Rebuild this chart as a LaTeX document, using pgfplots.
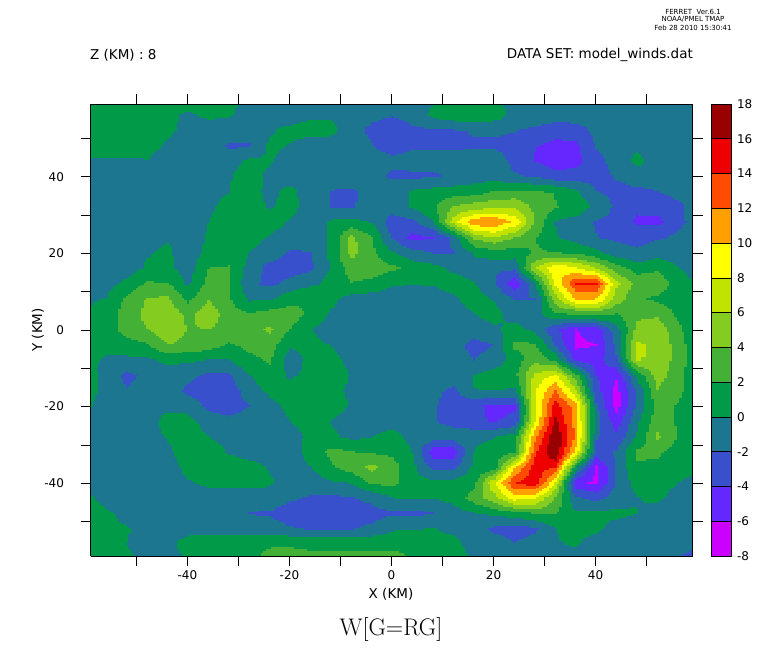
\documentclass[border=0pt]{standalone}
\usepackage{pgfplots}
\pgfplotsset{compat=1.18}
\usepgfplotslibrary{patchplots}
\usepackage{fontspec}
\newfontfamily\dv{DejaVu Sans}
\definecolor{c01}{HTML}{CC00FF}
\definecolor{c02}{HTML}{6428FF}
\definecolor{c03}{HTML}{3850CC}
\definecolor{c04}{HTML}{1C7690}
\definecolor{c05}{HTML}{009A48}
\definecolor{c06}{HTML}{44B035}
\definecolor{c07}{HTML}{85CC20}
\definecolor{c08}{HTML}{C0E400}
\definecolor{c09}{HTML}{FFFF00}
\definecolor{c10}{HTML}{FFA000}
\definecolor{c11}{HTML}{FF4C00}
\definecolor{c12}{HTML}{EE0000}
\definecolor{c13}{HTML}{990000}
\pgfplotsset{
  colormap={ferret}{color=(c01) color=(c02) color=(c03) color=(c04) color=(c05) color=(c06) color=(c07) color=(c08) color=(c09) color=(c10) color=(c11) color=(c12) color=(c13)},
}
\begin{document}
\begin{tikzpicture}[x=1pt,y=1pt]
\path[use as bounding box] (0,0) rectangle (768,662);
\begin{axis}[
  at={(90.5pt,106pt)}, anchor=south west,
  scale only axis, width=602pt, height=452pt,
  xmin=-59, xmax=59, ymin=-59, ymax=59,
  view={0}{90},
  xtick={-40,-20,...,40}, ytick={-40,-20,...,40},
  minor xtick={-50,-30,...,50}, minor ytick={-50,-30,...,50},
  tick align=outside, major tick length=10pt, minor tick length=10pt,
  tick style={black,line width=0.8pt},
  axis line style={line width=0.8pt},
  xtick pos=both, ytick pos=both,
  xticklabel pos=bottom, yticklabel pos=left,
  tick label style={font=\dv\fontsize{12}{14}\selectfont},
  xticklabel style={yshift=-1pt},
  yticklabel style={xshift=-13pt},
  /pgf/number format/assume math mode=true,
  axis on top,
  colormap name=ferret,
  colormap access=piecewise constant,
  point meta min=-8, point meta max=18,
]
\addplot3[surf, shader=interp, patch type=bilinear, mesh/cols=31, mesh/ordering=x varies, point meta=z]
table[row sep=\\, header=false, x expr={-60+4*mod(\coordindex,31)}, y expr={60-4*floor(\coordindex/31)}, z expr=\thisrowno{0}]{
1\\1\\1\\1\\1\\1\\1\\.6\\-.4\\-1\\-1\\-1\\-1\\-1\\-1\\-1.2\\-1\\-.3\\.3\\.5\\.4\\-1\\-1\\-1\\-1\\-1\\-1\\-1\\-1\\-1\\-1\\
1\\1\\1\\1\\.5\\-.3\\.4\\.2\\-.7\\-1\\-1\\-.3\\-.3\\-1\\-1.5\\-1.9\\-1.3\\.5\\1.2\\1.3\\1\\-.6\\-1\\-1\\-1\\-1\\-1\\-1\\-1\\-1\\-1\\
1\\1\\1\\1\\.4\\-.6\\-1\\-1\\-1\\-.3\\.6\\.8\\.6\\-1\\-2.5\\-3\\-2.4\\-2.1\\-2\\-1.8\\-1.7\\-1.9\\-2.3\\-3.2\\-2.9\\-1.4\\-1\\-1\\-1\\-1\\-1\\
1\\1\\1\\.8\\-.3\\-1\\-1\\-2.3\\-2.2\\.4\\-.1\\-1\\-1\\-1\\-1.9\\-2.8\\-2.3\\-2.3\\-2.3\\-2.3\\-2.3\\-2.6\\-3.9\\-4.6\\-4.4\\-1.8\\-1\\-.5\\-.9\\-1\\-1\\
-.2\\-.2\\-.2\\-.1\\-1\\-1\\-1\\-.8\\.4\\.2\\-.8\\-1\\-1\\-1\\-1.4\\-1.6\\-1.3\\-1.2\\-1.2\\-1\\-1\\-2.5\\-4.1\\-5\\-4.7\\-2.6\\-1.3\\.6\\-1\\-1\\-1\\
-1\\-1\\-1\\-1\\-1\\-1\\-1\\-.2\\1\\-.5\\-1\\-1\\-1\\-1\\-1.2\\-2.3\\-2.4\\-2.3\\-1.6\\-1\\-1\\-1.8\\-2.2\\-3.3\\-3.1\\-2.8\\-1.8\\-1.1\\-1\\-1\\-1\\
-1\\-1\\-1\\-1\\-1\\-1\\-1\\0\\.8\\-.5\\.6\\-1.1\\-2.1\\-2.3\\-1.3\\-1\\.3\\.8\\.9\\1.1\\2.2\\2.3\\2.1\\1.9\\.3\\-1.9\\-2.5\\-2.4\\-2.1\\-1.2\\-1\\
-1\\-1\\-1\\-1\\-1\\-1\\-.5\\1\\1\\-.2\\.7\\-1\\-2.1\\-2.2\\-1.3\\-1\\.2\\1.6\\4.1\\5\\5.5\\5.8\\3.4\\2.1\\1.5\\-.5\\-2.4\\-3.7\\-3.4\\-2.5\\-1\\
-1\\-1\\-1\\-1\\-1\\-1\\0\\1.2\\1.3\\1\\-.2\\-1\\.3\\.5\\-.1\\-3\\-2.5\\-.1\\6.9\\11.5\\11.9\\9.5\\3.8\\-.1\\-1\\-2.2\\-2.7\\-4.3\\-4.5\\-2.6\\-1\\
-1\\-1\\-1\\-1\\-.1\\-1\\.2\\1.3\\1\\-.3\\-1\\-1\\.2\\4.6\\2.05\\-2.3\\-4.6\\-4.1\\-1.5\\4.6\\5.9\\4\\2.1\\.2\\-1\\-1.9\\-2.5\\-2.6\\-2.3\\-1.5\\-1\\
-1\\-1\\-1\\-.1\\.3\\-1\\.5\\1.5\\-.05\\-1\\-2.2\\-2.1\\.4\\4.6\\2.5\\.2\\-1.3\\-2\\-2.1\\.3\\1.2\\.9\\2.2\\2.1\\1.8\\.5\\-1\\-1.7\\-.8\\-1\\-1\\
-1\\-1\\-1\\.3\\.5\\-1\\2\\2.1\\-.7\\-2.7\\-3\\-2.4\\.2\\3\\3\\2.4\\1.5\\.6\\-.4\\-1\\-1.7\\-1.5\\5.6\\9.7\\8.2\\5.9\\2.7\\1.2\\1.6\\.1\\-1\\
-.3\\-.8\\.5\\2.3\\2.1\\-.3\\2.6\\2.1\\-1.5\\-2.5\\-1.3\\-.6\\.9\\1.9\\1.5\\.2\\.1\\.2\\.9\\.2\\-1.9\\-5.5\\-.1\\8.5\\14.1\\14.2\\6.5\\3.2\\3.4\\1\\-.2\\
-1\\.1\\2.5\\4.2\\4.3\\1.5\\3.9\\2.3\\-.3\\-.3\\1.2\\2\\.5\\-.7\\-1\\-1\\-1\\-1\\-.3\\.8\\-.2\\-2\\-2.1\\5\\10.2\\10\\5.1\\2.3\\1.6\\.9\\.5\\
.2\\.9\\2.9\\4.6\\5.3\\3.5\\5.2\\2.9\\2.05\\2.8\\3.2\\1.4\\-.2\\-1\\-1\\-1\\-1\\-1\\-1\\0\\.7\\-1\\-1\\1.9\\2.1\\3\\1.9\\3.6\\3.6\\1.6\\.8\\
.6\\1\\2.9\\4\\5.8\\3.9\\4\\3.4\\3.3\\4.4\\1.9\\.1\\-1\\-1\\-1\\-1\\-1\\-1\\-1\\-1\\-.4\\.8\\-.7\\-3.6\\-6\\-5\\-.8\\4.5\\5.4\\2.5\\.3\\
.5\\.7\\1.2\\1.8\\4\\3.4\\3\\1.7\\2.6\\3\\.3\\.4\\0\\-1\\-1\\-1\\-1\\-1\\-1.2\\-2.7\\-1.9\\2.4\\2.3\\-2.2\\-6.5\\-6\\-1.5\\6.3\\5.7\\3\\.4\\
.6\\-.3\\-.4\\-.3\\.5\\.4\\-.1\\-.05\\1.5\\2.2\\-1\\.6\\.7\\-.6\\-1\\-1\\-1\\-1\\-1\\-2\\-1.2\\.9\\3.5\\1.5\\-4.5\\-5\\-2.2\\6.1\\5.7\\3\\.5\\
.5\\-.5\\-2.6\\-1.4\\-1\\-1.5\\-2.4\\-2.3\\-.1\\1.5\\-.4\\.6\\1\\-.1\\-1\\-1\\-1\\-1\\-.8\\.1\\1\\1.5\\6.5\\8.2\\2.9\\-4\\-5.7\\.5\\5\\2.7\\.6\\
.5\\-.4\\-1.9\\-1\\-1\\-2.4\\-3\\-3\\-1\\.4\\1.2\\1.2\\.6\\-.4\\-1\\-1\\-1\\-1.4\\-2.5\\0\\0\\-.3\\7.8\\12.2\\6.2\\-3.2\\-6.6\\-1.7\\3.9\\2.5\\.6\\
.3\\-.7\\-1\\-1\\-.6\\-.8\\-2.4\\-3\\-2\\-.5\\.4\\1\\1\\-.2\\-1\\-1\\-1\\-1.7\\-3\\-3.6\\-4.4\\-4.2\\7.8\\14.9\\11\\-1.6\\-6.8\\-1.5\\2.7\\1.9\\.3\\
-1\\-1\\-1\\-1\\.9\\.8\\-1\\-1.5\\-1\\-1\\0\\1\\-.1\\-1\\-1\\-1\\-1\\-1.9\\-2.6\\-3.7\\-4.1\\-3.6\\8\\16.6\\11\\-1\\-5\\-.4\\3.2\\1.7\\.4\\
-1\\-1\\-1\\-1\\.2\\1\\.1\\-1\\-1\\-1\\-1\\.6\\.4\\-.4\\-.1\\.9\\-.7\\-1\\-1\\-.4\\-.1\\1\\11.5\\19.5\\11.5\\-1.8\\-3.5\\.2\\4.35\\1.9\\.4\\
-1\\-1\\-1\\-1\\-.4\\1.2\\1.4\\-.2\\-1\\-1\\-1\\.8\\2.5\\2.1\\1.7\\1.6\\0\\-5\\-5\\0\\1\\1.5\\13.5\\19.5\\9.5\\-3\\-1.8\\2.4\\2.4\\1.1\\.3\\
-1\\-1\\-1\\-1\\-1\\.7\\1.2\\1.3\\1\\-.2\\-1\\0\\1.7\\3\\4.6\\2.9\\.5\\-2.6\\-2.6\\.4\\.6\\9.8\\15\\14.4\\.8\\-6.5\\-1.5\\1.7\\1.5\\.9\\.3\\
-1\\-1\\-1\\-1\\-1\\-.2\\.4\\.4\\.5\\.3\\-1\\-1\\-.3\\.1\\2.3\\2.6\\.6\\.7\\.8\\1.2\\7.8\\14\\15.5\\7.8\\-5.5\\-6.4\\-1.7\\.8\\1.1\\0\\-.7\\
-.1\\-1\\-1\\-1\\-1\\-1\\-1\\-1\\-1\\-1\\-1.7\\-2.2\\-2.4\\-2.1\\-1.5\\0\\.1\\.1\\.7\\2.9\\5.4\\9\\8.3\\3.7\\-1.7\\-2.6\\-1\\-.1\\.5\\-1\\-1\\
1\\.5\\-1\\-1\\-1\\-1\\-1\\-1.2\\-2.1\\-2.2\\-2.9\\-3.2\\-3.3\\-3\\-2.7\\-2.4\\-2.5\\-2.1\\-1\\0\\.4\\1.3\\2.2\\2.2\\.3\\.4\\.5\\.05\\-1\\-1\\-1\\
1\\.8\\.2\\-1\\-1\\-1\\-1\\-1\\-1\\-1.3\\-1.8\\-2.1\\-2.2\\-2.1\\-1.6\\-.2\\-.1\\.1\\-.6\\-1\\-2.4\\-3\\-2.4\\-.1\\.9\\.4\\-.8\\-1\\-1\\-1\\-1\\
1\\1\\0\\-1\\-.7\\1\\1.3\\1.3\\1.4\\1.8\\1.8\\1.6\\1.5\\1.5\\1.5\\1.4\\1.5\\1.1\\.7\\-.9\\-1\\-1.9\\-1.1\\-.1\\.2\\-1\\-1\\-1\\-1\\-1\\-1.6\\
1\\1\\.5\\-.7\\-1\\.2\\1\\1.2\\1.6\\2.6\\2.8\\2.6\\2.6\\2.6\\2.6\\2.9\\1.9\\1.7\\1.5\\-.5\\-1\\-1\\-1\\-.2\\-1\\-1\\-1\\-1\\-1\\-2.2\\-3\\
};
\end{axis}
\begin{axis}[
  at={(711.5pt,106pt)}, anchor=south west,
  scale only axis, width=20pt, height=452pt,
  xmin=0, xmax=1, ymin=-8, ymax=18,
  xtick=\empty, ytick={-8,-6,...,18},
  ytick pos=right, yticklabel pos=right,
  major tick length=0pt,
  axis line style={line width=0.8pt},
  tick label style={font=\dv\fontsize{12}{14}\selectfont},
  yticklabel style={anchor=west,xshift=2pt},
  /pgf/number format/assume math mode=true,
  axis on top,
]
\addplot[fill=c01,draw=black,line width=0.6pt] coordinates {(0,-8)(1,-8)(1,-6)(0,-6)} --cycle;
\addplot[fill=c02,draw=black,line width=0.6pt] coordinates {(0,-6)(1,-6)(1,-4)(0,-4)} --cycle;
\addplot[fill=c03,draw=black,line width=0.6pt] coordinates {(0,-4)(1,-4)(1,-2)(0,-2)} --cycle;
\addplot[fill=c04,draw=black,line width=0.6pt] coordinates {(0,-2)(1,-2)(1,0)(0,0)} --cycle;
\addplot[fill=c05,draw=black,line width=0.6pt] coordinates {(0,0)(1,0)(1,2)(0,2)} --cycle;
\addplot[fill=c06,draw=black,line width=0.6pt] coordinates {(0,2)(1,2)(1,4)(0,4)} --cycle;
\addplot[fill=c07,draw=black,line width=0.6pt] coordinates {(0,4)(1,4)(1,6)(0,6)} --cycle;
\addplot[fill=c08,draw=black,line width=0.6pt] coordinates {(0,6)(1,6)(1,8)(0,8)} --cycle;
\addplot[fill=c09,draw=black,line width=0.6pt] coordinates {(0,8)(1,8)(1,10)(0,10)} --cycle;
\addplot[fill=c10,draw=black,line width=0.6pt] coordinates {(0,10)(1,10)(1,12)(0,12)} --cycle;
\addplot[fill=c11,draw=black,line width=0.6pt] coordinates {(0,12)(1,12)(1,14)(0,14)} --cycle;
\addplot[fill=c12,draw=black,line width=0.6pt] coordinates {(0,14)(1,14)(1,16)(0,16)} --cycle;
\addplot[fill=c13,draw=black,line width=0.6pt] coordinates {(0,16)(1,16)(1,18)(0,18)} --cycle;
\end{axis}
\node[anchor=west,inner sep=0pt,font=\dv\fontsize{13.5}{15}\selectfont] at (90,607) {Z (KM)\ :\ 8};
\node[anchor=east,inner sep=0pt,font=\dv\fontsize{13.5}{15}\selectfont] at (693,607) {DATA SET:\ model\_winds.dat};
\node[inner sep=0pt,font=\dv\fontsize{7}{8}\selectfont] at (693,650) {FERRET\ \ Ver.6.1};
\node[inner sep=0pt,font=\dv\fontsize{7}{8}\selectfont] at (693,642.5) {NOAA/PMEL TMAP};
\node[inner sep=0pt,font=\dv\fontsize{7}{8}\selectfont] at (693,634.5) {Feb 28 2010 15:30:41};
\node[inner sep=0pt,font=\dv\fontsize{13.5}{15}\selectfont] at (391,68) {X (KM)};
\node[inner sep=0pt,rotate=90,font=\dv\fontsize{13.5}{15}\selectfont] at (38,332) {Y (KM)};
\node[inner sep=0pt,font=\fontsize{24}{28}\selectfont] at (391,33) {W[G=RG]};
\end{tikzpicture}
\end{document}
